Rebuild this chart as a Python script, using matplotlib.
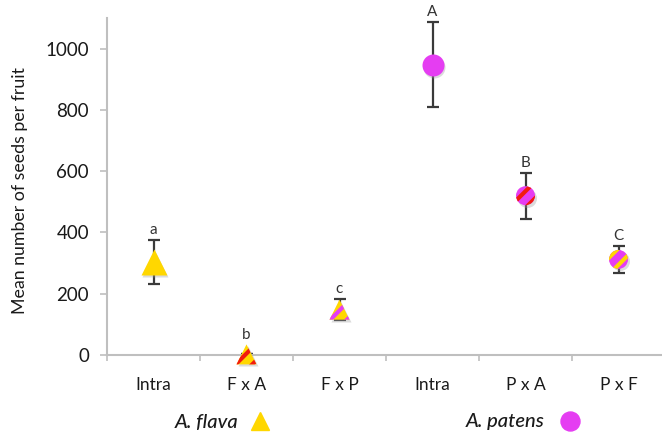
import matplotlib
matplotlib.use("Agg")
import matplotlib.pyplot as plt
from matplotlib.lines import Line2D
from matplotlib.ticker import FixedLocator

# ---- data ----
categories = ["Intra", "F x A", "F x P", "Intra", "P x A", "P x F"]
means = [305, 2, 148, 948, 520, 312]
errors = [72, 0, 35, 140, 75, 45]
letters = ["a", "b", "c", "A", "B", "C"]
species = ["A. flava", "A. flava", "A. flava", "A. patens", "A. patens", "A. patens"]
yticks = [0, 200, 400, 600, 800, 1000]

# ---- style ----
YELLOW = "#FFD700"
MAGENTA = "#E53DF2"
RED = "#F21B0F"
face_colors = [YELLOW, YELLOW, YELLOW, MAGENTA, MAGENTA, MAGENTA]
hatch_colors = [None, RED, MAGENTA, None, RED, YELLOW]
markers = ["^", "^", "^", "o", "o", "o"]
sizes = [26, 20, 20, 22, 19, 19]  # marker size in px
letter_offsets = [2, 9, 2, 2, 2, 2]  # points above error bar top

plt.rcParams['font.family'] = ['Lato', 'DejaVu Sans']
plt.rcParams['hatch.linewidth'] = 3.0

W, H = 662, 438
fig = plt.figure(figsize=(W / 100, H / 100), dpi=100)
x0, x1 = 107, 662
ybot, ytop = 355, 18
ax = fig.add_axes([x0 / W, (H - ybot) / H, (x1 - x0) / W, (ybot - ytop) / H])

xs = list(range(len(categories)))
ax.set_xlim(-0.5, -0.5 + (x1 - x0) / 93.0)
ax.set_ylim(0, 1100)

gray_axis = "#BFBFBF"
for s in ["top", "right"]:
    ax.spines[s].set_visible(False)
for s in ["left", "bottom"]:
    ax.spines[s].set_color(gray_axis)
    ax.spines[s].set_linewidth(1.5)

# error bars
ax.errorbar(xs, means, yerr=errors, fmt="none", ecolor="#3A3A3A",
            elinewidth=1.6, capsize=4, capthick=1.6, zorder=2)

# markers (with a subtle shadow)
for x, m, mk, sz, fc, hc in zip(xs, means, markers, sizes, face_colors, hatch_colors):
    area = (sz * 72 / 100) ** 2
    ax.scatter([x], [m], s=area, marker=mk, c="#9A9A9A", alpha=0.35,
               linewidths=0, zorder=3, clip_on=False,
               transform=ax.transData + matplotlib.transforms.ScaledTranslation(1.5 / 100, -2 / 100, fig.dpi_scale_trans))
    if hc is not None:
        plt.rcParams['hatch.color'] = hc
        ax.scatter([x], [m], s=area, marker=mk, c=fc, hatch="//",
                   linewidths=0, zorder=4, clip_on=False)
    else:
        ax.scatter([x], [m], s=area, marker=mk, c=fc, linewidths=0,
                   zorder=4, clip_on=False)

# significance letters
for x, m, e, lt, off in zip(xs, means, errors, letters, letter_offsets):
    ax.annotate(lt, (x, m + e), xytext=(0, off), textcoords="offset points",
                ha="center", va="bottom", fontsize=11, color="#333333")

# axes ticks
ax.yaxis.set_major_locator(FixedLocator(yticks))
ax.set_yticklabels([str(t) for t in yticks])
ax.tick_params(axis="y", direction="out", length=5, width=1.2, color=gray_axis,
               labelsize=13.5, labelcolor="#1A1A1A", pad=8)
ax.set_xticks(xs)
ax.set_xticklabels(categories)
ax.tick_params(axis="x", which="major", length=0, labelsize=12.5,
               labelcolor="#1A1A1A", pad=16)
ax.xaxis.set_minor_locator(FixedLocator([i - 0.5 for i in range(len(categories) + 1)]))
ax.tick_params(axis="x", which="minor", direction="out", length=4, width=1.2,
               color=gray_axis)

fig.text(20 / W, (H - 190) / H, "Mean number of seeds per fruit", rotation=90,
         ha="center", va="center", fontsize=12.8, color="#1A1A1A")

# legend below
fig.text(207 / W, (H - 422) / H, species[0], ha="center", va="center",
         fontsize=14.5, style="italic", fontweight="medium", color="#1A1A1A")
fig.add_artist(Line2D([260 / W], [(H - 421) / H], marker="^", markersize=18 * 0.72,
                      color=YELLOW, linestyle="none", transform=fig.transFigure))
fig.text(505 / W, (H - 422) / H, species[3], ha="center", va="center",
         fontsize=14.5, style="italic", fontweight="medium", color="#1A1A1A")
fig.add_artist(Line2D([570 / W], [(H - 421) / H], marker="o", markersize=19 * 0.72,
                      color=MAGENTA, linestyle="none", transform=fig.transFigure))

fig.savefig("out.png", dpi=100)
